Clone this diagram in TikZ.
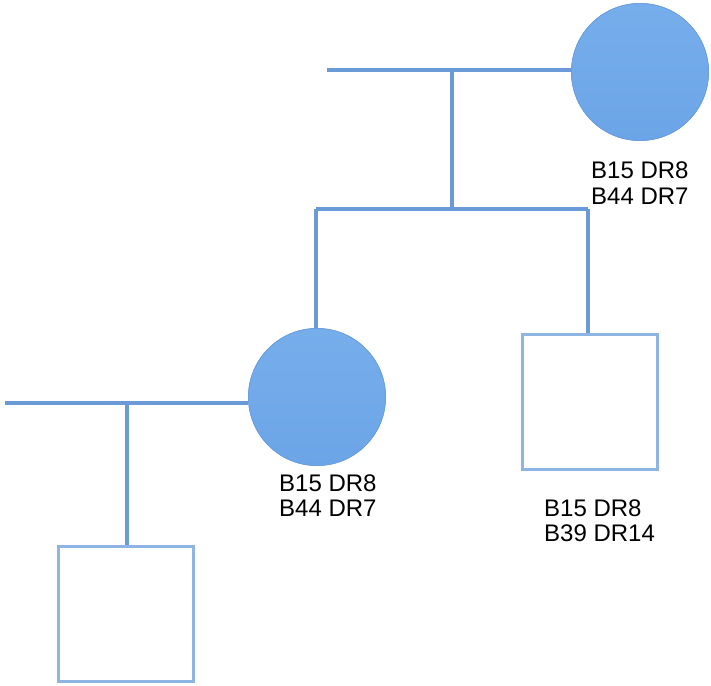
\documentclass[tikz,border=0pt]{standalone}
\usepackage{fontspec}
\setmainfont{Liberation Sans}
\begin{document}
\begin{tikzpicture}[x=1pt,y=-1pt,
  link/.style={draw=linkblue,line width=3.6pt},
  female/.style={circle,minimum size=137pt,inner sep=0pt,draw=edgeblue,line width=0.8pt,
    top color=fillhi,bottom color=filllo},
  male/.style={rectangle,minimum size=135pt,inner sep=0pt,draw=boxblue,line width=3pt,fill=white},
  label/.style={anchor=west,align=left,inner sep=0pt,font=\fontsize{24}{25.5}\selectfont,text=black}]
\definecolor{linkblue}{HTML}{6A9BD8}
\definecolor{boxblue}{HTML}{8DB4E2}
\definecolor{edgeblue}{HTML}{6A9FE0}
\definecolor{fillhi}{HTML}{76AEEC}
\definecolor{filllo}{HTML}{6CA5E7}
\useasboundingbox (0,0) rectangle (711,685);

% individuals
\node[female] (gm) at (640,72) {};
\node[female] (mo) at (317,397) {};
\node[male]   (br) at (590,401.5) {};
\node[male]   (ch) at (126,614) {};

% genotype labels
\node[label] (tgm) at (591,183) {B15 DR8\\B44 DR7};
\node[label] (tmo) at (279,495.5) {B15 DR8\\B44 DR7};
\node[label] (tbr) at (544,520.5) {B15 DR8\\B39 DR14};

% partnership and sibship points
\coordinate (p1) at (327,70);
\coordinate (d1) at (452,70);
\coordinate (s1) at (452,209);
\coordinate (sl) at (316,209);
\coordinate (sr) at (588,209);
\coordinate (p2) at (5,403);
\coordinate (d2) at (127,403);

% connectors
\draw[link] (p1) -- (p1 -| gm.west);
\draw[link] (d1) -- (s1);
\draw[link] (sl) -- (sr);
\draw[link] (sl) -- (sl |- mo.north);
\draw[link] (sr) -- (sr |- br.north);
\draw[link] (p2) -- (p2 -| mo.west);
\draw[link] (d2) -- (d2 |- ch.north);

% redraw shapes above the line ends
\node[female] at (gm) {};
\node[female] at (mo) {};
\node[male] at (br) {};
\node[male] at (ch) {};
\end{tikzpicture}
\end{document}
